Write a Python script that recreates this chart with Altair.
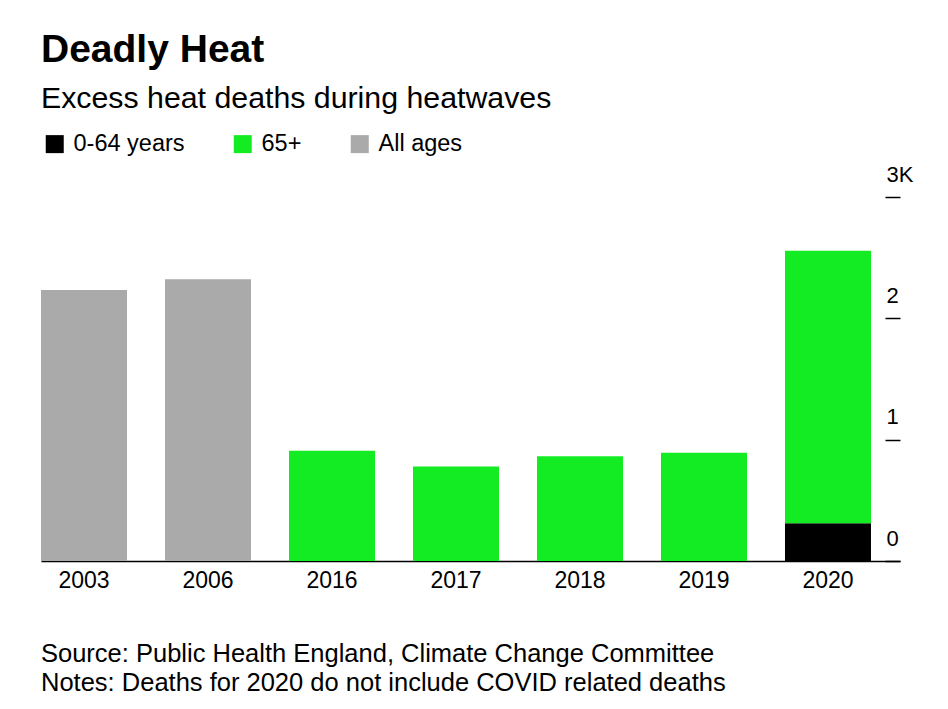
import altair as alt
import pandas as pd

years = ["2003", "2006", "2016", "2017", "2018", "2019", "2020", "2020"]
groups = ["All ages", "All ages", "65+", "65+", "65+", "65+", "0-64 years", "65+"]
deaths = [2234, 2323, 908, 778, 863, 892, 312, 2244]
stack_order = [1, 1, 2, 2, 2, 2, 1, 2]

legend_labels = ["0-64 years", "65+", "All ages"]
legend_colors = ["#000000", "#13ec22", "#aaaaaa"]

y_ticks = [0, 1000, 2000, 3000]

title_text = "Deadly Heat"
subtitle_text = "Excess heat deaths during heatwaves"
footer_lines = [
    "Source: Public Health England, Climate Change Committee",
    "Notes: Deaths for 2020 do not include COVID related deaths",
]

df = pd.DataFrame({"year": years, "group": groups, "deaths": deaths, "ord": stack_order})

FONT = "Liberation Sans"
W, H = 859, 364

bars = alt.Chart(df).mark_bar().encode(
    x=alt.X(
        "year:N",
        scale=alt.Scale(paddingInner=0.3065, paddingOuter=0.117, align=0),
        axis=alt.Axis(
            title=None, labelAngle=0, ticks=False, labelFontSize=23, labelColor="#000000",
            labelFont=FONT, labelPadding=8, domainColor="#000000", domainWidth=1.5,
        ),
    ),
    y=alt.Y(
        "deaths:Q",
        stack="zero",
        scale=alt.Scale(domain=[0, 3000], nice=False),
        axis=alt.Axis(
            title=None, orient="right", values=y_ticks, offset=-15, tickSize=15,
            tickColor="#000000", tickWidth=1.5, domain=False, grid=False,
            labelExpr="datum.value == 3000 ? '3K' : format(datum.value / 1000, 'd')",
            labelAlign="left", labelBaseline="alphabetic", labelOffset=-16,
            labelPadding=-14, labelFontSize=22, labelFont=FONT, labelColor="#000000",
        ),
    ),
    color=alt.Color(
        "group:N",
        scale=alt.Scale(domain=legend_labels, range=legend_colors),
        legend=alt.Legend(
            title=None, orient="none", legendX=2, legendY=-65, direction="horizontal",
            symbolType="square", symbolSize=324, symbolStrokeWidth=0, symbolOpacity=1,
            labelFontSize=23.5, labelFont=FONT, labelColor="#000000", labelOffset=7,
            columnPadding=46,
        ),
    ),
    order=alt.Order("ord:Q"),
)

footer = alt.Chart(pd.DataFrame({"k": [0]})).mark_text(
    align="left", baseline="alphabetic", fontSize=25.5, font=FONT, color="#000000",
    lineHeight=29,
).encode(
    x=alt.value(0), y=alt.value(465), text=alt.value(footer_lines)
)

chart = alt.layer(bars, footer).properties(
    width=W, height=H,
    padding={"left": 33, "top": 22, "right": 5, "bottom": 5},
    title=alt.TitleParams(
        text=title_text, subtitle=subtitle_text, anchor="start", font=FONT,
        fontSize=39, fontWeight="bold", color="#000000", subtitleFont=FONT,
        subtitleFontSize=30.3, subtitleColor="#000000", subtitlePadding=14, offset=18,
    ),
).configure_view(stroke=None)

chart.save("out.html", embed_options={"renderer": "svg", "actions": False})
